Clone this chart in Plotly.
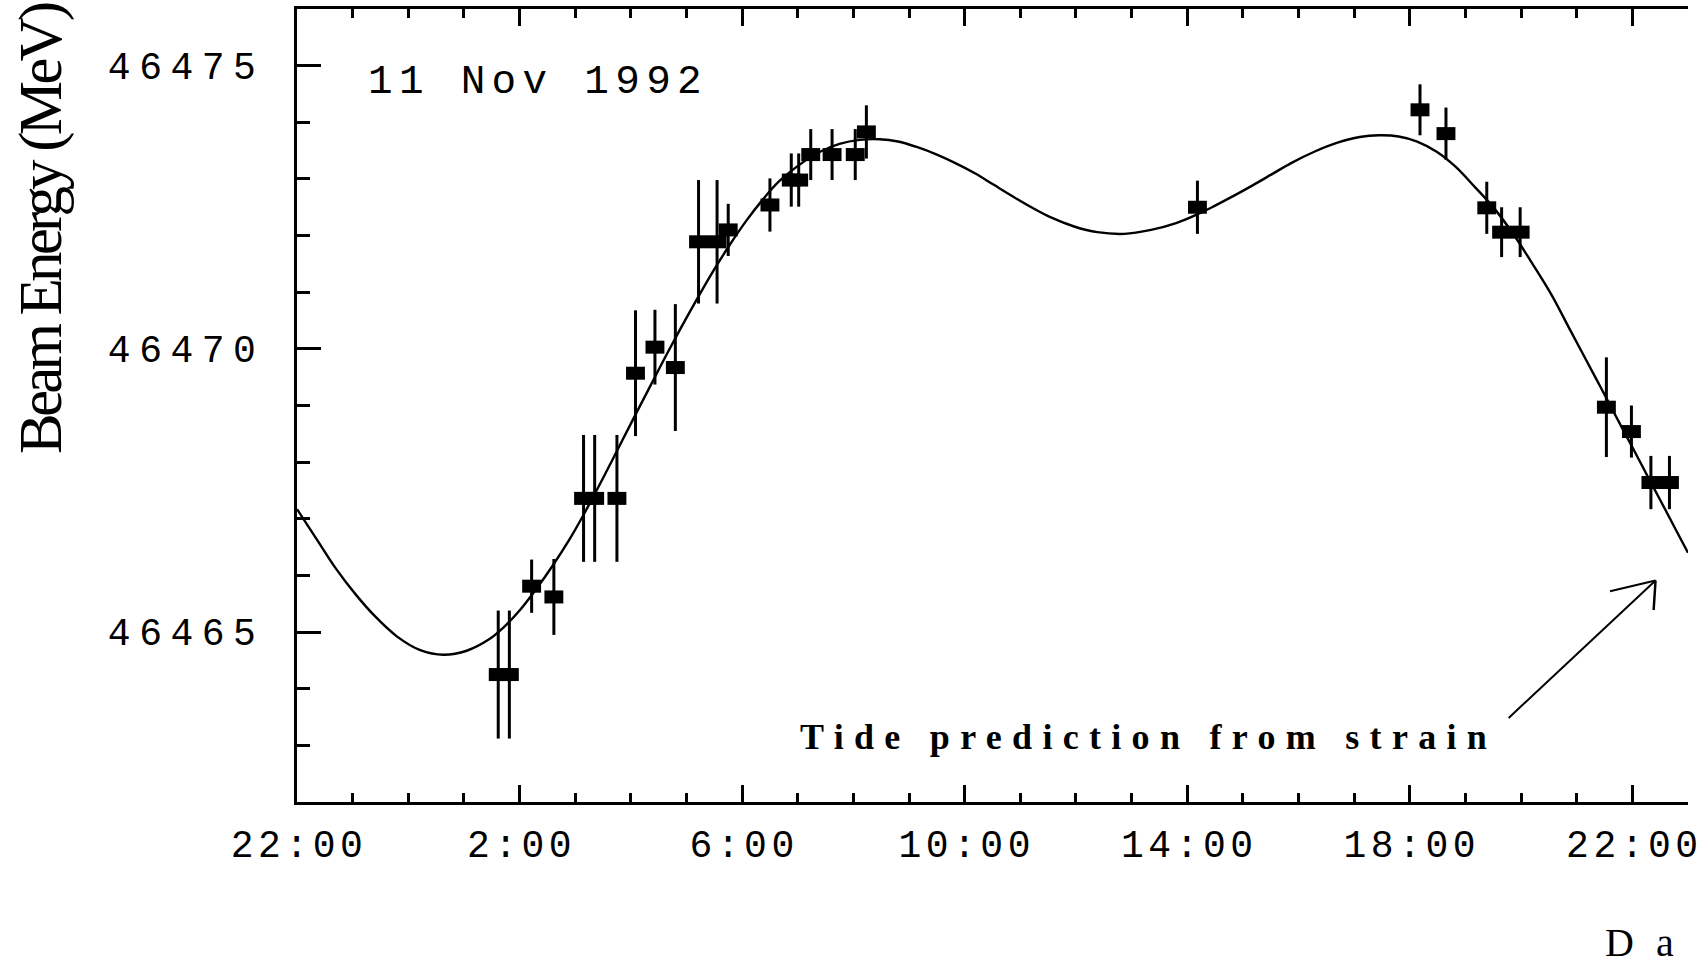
import plotly.graph_objects as go

# ---- data ----
point_time = [
    "1992-11-11 01:37", "1992-11-11 01:49", "1992-11-11 02:13", "1992-11-11 02:37",
    "1992-11-11 03:09", "1992-11-11 03:21", "1992-11-11 03:45", "1992-11-11 04:05",
    "1992-11-11 04:26", "1992-11-11 04:48", "1992-11-11 05:13", "1992-11-11 05:33",
    "1992-11-11 05:45", "1992-11-11 06:30", "1992-11-11 06:53", "1992-11-11 07:01",
    "1992-11-11 07:14", "1992-11-11 07:37", "1992-11-11 08:02", "1992-11-11 08:14",
    "1992-11-11 14:11", "1992-11-11 18:11", "1992-11-11 18:39", "1992-11-11 19:23",
    "1992-11-11 19:39", "1992-11-11 19:59", "1992-11-11 21:32", "1992-11-11 21:59",
    "1992-11-11 22:20", "1992-11-11 22:40",
]
point_mev = [
    46464.25, 46464.25, 46465.81, 46465.62,
    46467.36, 46467.36, 46467.36, 46469.57,
    46470.03, 46469.67, 46471.89, 46471.89,
    46472.10, 46472.54, 46472.98, 46472.98,
    46473.43, 46473.43, 46473.43, 46473.83,
    46472.50, 46474.22, 46473.80, 46472.49,
    46472.06, 46472.06, 46468.97, 46468.54,
    46467.64, 46467.64,
]
point_err = [
    1.13, 1.13, 0.47, 0.67,
    1.12, 1.12, 1.12, 1.11,
    0.66, 1.12, 1.09, 1.09,
    0.46, 0.47, 0.47, 0.47,
    0.45, 0.45, 0.45, 0.47,
    0.47, 0.45, 0.46, 0.46,
    0.44, 0.44, 0.88, 0.46,
    0.47, 0.47,
]

curve_time = [
    "1992-11-10 22:00", "1992-11-10 22:22", "1992-11-10 22:42", "1992-11-10 23:03",
    "1992-11-10 23:24", "1992-11-10 23:48", "1992-11-11 00:13", "1992-11-11 00:38",
    "1992-11-11 01:03", "1992-11-11 01:28", "1992-11-11 01:42", "1992-11-11 02:00",
    "1992-11-11 02:18", "1992-11-11 02:36", "1992-11-11 02:54", "1992-11-11 03:08",
    "1992-11-11 03:23", "1992-11-11 03:37", "1992-11-11 03:51", "1992-11-11 04:06",
    "1992-11-11 04:18", "1992-11-11 04:36", "1992-11-11 04:54", "1992-11-11 05:11",
    "1992-11-11 05:28", "1992-11-11 05:46", "1992-11-11 06:04", "1992-11-11 06:22",
    "1992-11-11 06:40", "1992-11-11 07:07", "1992-11-11 07:24", "1992-11-11 07:45",
    "1992-11-11 08:07", "1992-11-11 08:28", "1992-11-11 08:48", "1992-11-11 09:09",
    "1992-11-11 09:30", "1992-11-11 09:50", "1992-11-11 10:11", "1992-11-11 10:31",
    "1992-11-11 10:52", "1992-11-11 11:13", "1992-11-11 11:33", "1992-11-11 11:58",
    "1992-11-11 12:23", "1992-11-11 12:52", "1992-11-11 13:21", "1992-11-11 13:48",
    "1992-11-11 14:09", "1992-11-11 14:29", "1992-11-11 14:50", "1992-11-11 15:11",
    "1992-11-11 15:31", "1992-11-11 15:52", "1992-11-11 16:17", "1992-11-11 16:42",
    "1992-11-11 17:06", "1992-11-11 17:27", "1992-11-11 17:48", "1992-11-11 18:08",
    "1992-11-11 18:29", "1992-11-11 18:49", "1992-11-11 19:10", "1992-11-11 19:31",
    "1992-11-11 19:51", "1992-11-11 20:12", "1992-11-11 20:33", "1992-11-11 20:53",
    "1992-11-11 21:07", "1992-11-11 21:21", "1992-11-11 21:32", "1992-11-11 21:50",
    "1992-11-11 22:04", "1992-11-11 22:19", "1992-11-11 22:33", "1992-11-11 22:48",
    "1992-11-11 23:00",
]
curve_mev = [
    46467.17, 46466.62, 46466.12, 46465.67,
    46465.28, 46464.92, 46464.68, 46464.60,
    46464.67, 46464.88, 46465.07, 46465.38,
    46465.76, 46466.18, 46466.64, 46467.04,
    46467.50, 46467.94, 46468.39, 46468.87,
    46469.25, 46469.82, 46470.37, 46470.87,
    46471.35, 46471.82, 46472.25, 46472.63,
    46472.96, 46473.31, 46473.48, 46473.62,
    46473.69, 46473.70, 46473.66, 46473.56,
    46473.43, 46473.28, 46473.10, 46472.90,
    46472.69, 46472.49, 46472.32, 46472.16,
    46472.06, 46472.03, 46472.10, 46472.22,
    46472.36, 46472.52, 46472.70, 46472.89,
    46473.08, 46473.28, 46473.48, 46473.64,
    46473.74, 46473.77, 46473.75, 46473.66,
    46473.48, 46473.22, 46472.86, 46472.48,
    46472.04, 46471.51, 46470.95, 46470.33,
    46469.90, 46469.47, 46469.13, 46468.57,
    46468.14, 46467.67, 46467.24, 46466.77,
    46466.40,
]

x_range = ["1992-11-10 22:00", "1992-11-11 23:00"]
x_tick_vals = ["1992-11-10 22:00", "1992-11-11 02:00", "1992-11-11 06:00",
               "1992-11-11 10:00", "1992-11-11 14:00", "1992-11-11 18:00",
               "1992-11-11 22:00"]
x_tick_text = ["22:00", "2:00", "6:00", "10:00", "14:00", "18:00", "22:00"]
y_range = [46462, 46476]
y_tick_vals = [46465, 46470, 46475]
y_tick_text = ["46465", "46470", "46475"]

date_label = "11 Nov 1992"
ylabel = "Beam Energy (MeV)"
note_label = "Tide prediction from strain"
corner_label = "Da"
arrow_tip = ("1992-11-11 22:25", 46465.91)
arrow_tail = ("1992-11-11 19:45", 46463.46)

# ---- layout geometry ----
W, H = 1701, 958
L, R, T, B = 297, 13, 9, 156


def px(xp):
    return (xp - L) / (W - L - R)


def py(yp):
    return 1 - (yp - T) / (H - T - B)


def sp(s, ls):
    return f'<span style="letter-spacing:{ls}px">{s}</span>'


MONO = "Liberation Mono"
SERIF = "Liberation Serif"

fig = go.Figure()
fig.add_trace(go.Scatter(
    x=curve_time, y=curve_mev, mode="lines",
    line=dict(color="black", width=2.4, shape="spline", smoothing=1.0),
    hoverinfo="skip", showlegend=False,
))
fig.add_trace(go.Scatter(
    x=point_time, y=point_mev, mode="markers",
    marker=dict(symbol="line-ew", size=13.5, color="black",
                line=dict(width=13, color="black")),
    error_y=dict(type="data", array=point_err, visible=True,
                 thickness=3, width=0, color="black"),
    showlegend=False,
))

axis_common = dict(
    showline=True, linewidth=3, linecolor="black", showgrid=False,
    zeroline=False, ticks="inside", tickwidth=3, tickcolor="black",
    automargin=False,
)

fig.update_layout(
    width=W, height=H,
    margin=dict(l=L, r=R, t=T, b=B, pad=0),
    paper_bgcolor="white", plot_bgcolor="white",
    showlegend=False,
    xaxis=dict(
        type="date", range=x_range, tickmode="array",
        tickvals=x_tick_vals, ticktext=[sp(t, 4.5) for t in x_tick_text],
        ticklen=17, mirror="ticks", ticklabeloverflow="allow",
        tickfont=dict(family=MONO, size=38, color="black"),
        ticklabelstandoff=6, ticklabelshift=2,
        minor=dict(ticks="inside", ticklen=9, tickwidth=3, tickcolor="black",
                   dtick=3600000, tick0=x_range[0], showgrid=False),
        **axis_common,
    ),
    yaxis=dict(
        range=y_range, tickmode="array",
        tickvals=y_tick_vals, ticktext=[sp(t, 8.5) for t in y_tick_text],
        ticklen=24,
        tickfont=dict(family=MONO, size=38, color="black"),
        ticklabelstandoff=22,
        minor=dict(ticks="inside", ticklen=13, tickwidth=3, tickcolor="black",
                   dtick=1, tick0=46462, showgrid=False),
        **axis_common,
    ),
    annotations=[
        dict(xref="paper", yref="paper", x=px(366), y=py(82),
             xanchor="left", yanchor="middle", showarrow=False,
             text=sp(date_label, 6.3),
             font=dict(family=MONO, size=41, color="black")),
        dict(xref="paper", yref="paper", x=px(798), y=py(737),
             xanchor="left", yanchor="middle", showarrow=False,
             text=sp("<b>" + note_label + "</b>", 10.3),
             font=dict(family=SERIF, size=36, color="black")),
        dict(xref="paper", yref="paper", x=px(1603), y=py(943),
             xanchor="left", yanchor="middle", showarrow=False,
             text=sp(corner_label, 22),
             font=dict(family=SERIF, size=40, color="black")),
        dict(xref="paper", yref="paper", x=px(41), y=py(229),
             xanchor="center", yanchor="middle", showarrow=False,
             textangle=-90, text=sp(ylabel, -3.8),
             font=dict(family=SERIF, size=61, color="black")),
        # arrow shaft
        dict(x=arrow_tip[0], y=arrow_tip[1], xref="x", yref="y",
             ax=arrow_tail[0], ay=arrow_tail[1], axref="x", ayref="y",
             text="", showarrow=True, arrowhead=0, arrowwidth=2,
             arrowcolor="black", standoff=0),
        # arrow barbs
        dict(x=arrow_tip[0], y=arrow_tip[1], xref="x", yref="y",
             ax=-47, ay=11, text="", showarrow=True, arrowhead=0,
             arrowwidth=2, arrowcolor="black", standoff=0),
        dict(x=arrow_tip[0], y=arrow_tip[1], xref="x", yref="y",
             ax=-2, ay=31, text="", showarrow=True, arrowhead=0,
             arrowwidth=2.5, arrowcolor="black", standoff=0),
    ],
)

fig.write_html("out.html")
